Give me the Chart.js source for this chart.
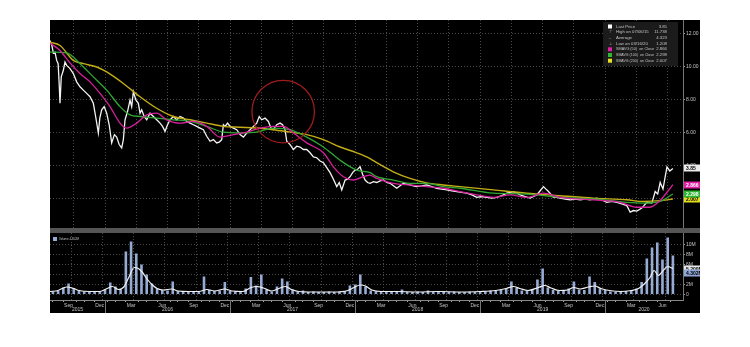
<!DOCTYPE html>
<html>
<head>
<meta charset="utf-8">
<script src="https://cdn.jsdelivr.net/npm/chart.js@4.4.1/dist/chart.umd.min.js"></script>
<style>
    html, body { margin: 0; padding: 0; background: #fff; width: 750px; height: 347px; overflow: hidden; }
    #frame { position: absolute; left: 50px; top: 20px; width: 650px; height: 293px; background: #000; }
    #price { position: absolute; left: 50px; top: 20px; }
    #sep { position: absolute; left: 50px; top: 228px; width: 650px; height: 5px; background: #555; }
    #volume { position: absolute; left: 50px; top: 233px; }
</style>
</head>
<body>
<div id="frame"></div>
<canvas id="price" width="650" height="208"></canvas>
<div id="sep"></div>
<canvas id="volume" width="650" height="80"></canvas>

<script>
// --- DATA (x = months counted from Jan 2015, so 12 = Jan 2016) ---
const priceMonths = [6.72, 6.9, 7.04, 7.2, 7.36, 7.5, 7.6, 7.68, 7.8, 8.0, 8.16, 8.32, 8.64, 8.96, 9.28, 9.6, 9.92, 10.24, 10.56, 10.88,
    11.1, 11.36, 11.5, 11.68, 11.92, 12.16, 12.4, 12.64, 12.9, 13.12, 13.36, 13.6, 13.76, 13.92, 14.16, 14.4, 14.56, 14.72, 14.96, 15.2,
    15.36, 15.52, 15.76, 16.0, 16.32, 16.64, 16.96, 17.28, 17.52, 17.76, 18.0, 18.24, 18.56, 18.88, 19.2, 19.52, 19.84, 20.16, 20.48, 20.8,
    21.12, 21.44, 21.76, 22.08, 22.4, 22.72, 22.96, 23.2, 23.36, 23.52, 23.76, 24.0, 24.32, 24.64, 24.96, 25.28, 25.6, 25.92, 26.24, 26.56,
    26.8, 27.04, 27.36, 27.68, 27.92, 28.16, 28.48, 28.8, 29.04, 29.28, 29.44, 29.76, 30.08, 30.4, 30.72, 31.04, 31.36, 31.68, 32.0, 32.32,
    32.64, 32.96, 33.28, 33.6, 33.92, 34.24, 34.48, 34.72, 35.04, 35.28, 35.52, 35.76, 36.0, 36.24, 36.48, 36.72, 36.96, 37.2, 37.44, 37.76,
    38.08, 38.4, 38.72, 39.04, 39.36, 39.68, 40.0, 40.32, 40.64, 40.96, 41.28, 41.6, 41.92, 42.4, 42.88, 43.36, 43.84, 44.32, 44.8, 45.28,
    45.76, 46.24, 46.72, 47.2, 47.68, 48.16, 48.64, 49.12, 49.6, 50.08, 50.56, 51.2, 51.52, 51.84, 52.32, 52.8, 53.12, 53.44, 53.76, 54.08,
    54.32, 54.56, 55.04, 55.36, 55.68, 56.16, 56.64, 57.12, 57.6, 58.08, 58.56, 59.2, 59.68, 60.16, 60.64, 61.12, 61.6, 62.08, 62.4, 62.72,
    63.04, 63.52, 64.0, 64.48, 64.8, 65.04, 65.28, 65.55, 65.93, 66.2, 66.5];
const priceValues = [11.6, 11.3, 10.85, 10.9, 10.4, 10.2, 9.0, 7.8, 9.4, 9.8, 10.3, 10.1, 9.9, 9.6, 9.1, 8.8, 8.6, 8.4, 8.2, 7.8,
    7.0, 6.0, 6.9, 7.4, 7.6, 7.2, 6.5, 5.4, 5.9, 5.75, 5.3, 5.1, 5.6, 6.8, 7.3, 8.0, 7.6, 8.5, 8.0, 7.8,
    7.2, 7.4, 7.0, 6.8, 7.2, 7.0, 6.8, 6.6, 6.4, 6.1, 6.5, 6.8, 7.0, 6.8, 7.0, 6.9, 6.7, 6.6, 6.5, 6.4,
    6.3, 6.2, 5.8, 5.5, 5.6, 5.4, 5.45, 5.6, 6.5, 6.4, 6.6, 6.4, 6.3, 6.2, 5.9, 5.75, 6.0, 6.2, 6.4, 6.6,
    7.0, 6.8, 6.9, 6.7, 6.3, 6.2, 6.5, 6.6, 6.5, 6.2, 5.5, 5.3, 5.0, 5.2, 5.15, 5.0, 5.0, 4.8, 4.55, 4.5,
    4.3, 4.2, 3.9, 3.6, 3.2, 2.75, 3.0, 2.55, 3.15, 3.2, 3.35, 3.6, 3.75, 3.8, 3.95, 3.5, 3.15, 3.0, 2.95, 3.05,
    3.0, 3.1, 3.15, 3.0, 2.95, 2.8, 2.65, 2.8, 2.95, 2.9, 2.85, 2.8, 2.75, 2.8, 2.85, 2.75, 2.65, 2.6, 2.55, 2.5,
    2.45, 2.4, 2.35, 2.25, 2.1, 2.15, 2.1, 2.05, 2.1, 2.2, 2.35, 2.45, 2.35, 2.25, 2.15, 2.05, 2.15, 2.25, 2.5, 2.75,
    2.6, 2.45, 2.1, 2.1, 2.05, 2.0, 1.95, 2.0, 1.95, 2.0, 1.95, 2.05, 1.95, 1.8, 1.85, 1.8, 1.7, 1.6, 1.2, 1.3,
    1.27, 1.45, 1.8, 1.75, 2.45, 2.3, 3.0, 2.6, 3.95, 3.7, 3.85];

const sma50Months = [6.72, 7.68, 8.64, 9.6, 10.56, 11.52, 12.48, 13.44, 14.08, 15.04, 16.0, 16.96, 17.92, 19.2, 20.48, 21.76, 23.04, 24.32,
    25.6, 26.88, 28.16, 29.12, 30.08, 31.36, 32.96, 33.92, 34.88, 35.84, 36.8, 37.44, 38.07, 39.67, 41.27, 42.87, 44.47, 46.07, 47.67,
    49.27, 50.87, 52.47, 54.07, 55.67, 58.87, 61.42, 63.02, 64.3, 65.26, 66.5];
const sma50Values = [11.45, 11.0, 10.25, 9.6, 9.1, 8.4, 7.6, 6.6, 6.3, 6.6, 7.1, 7.2, 6.8, 6.6, 6.7, 6.4, 5.75, 5.9,
    6.05, 6.3, 6.4, 6.4, 6.0, 5.4, 4.8, 3.95, 3.35, 3.15, 3.35, 3.45, 3.25, 2.95, 2.85, 2.75, 2.65, 2.45, 2.25,
    2.1, 2.25, 2.1, 2.35, 2.1, 1.95, 1.8, 1.5, 1.5, 1.9, 2.87];

const sma100Months = [6.72, 8.32, 9.6, 10.88, 12.16, 13.44, 14.4, 15.36, 16.96, 18.56, 20.16, 21.76, 23.36, 24.96, 26.56, 28.16, 29.76,
    31.36, 32.96, 34.56, 36.16, 37.44, 38.07, 39.67, 41.27, 42.87, 44.47, 46.07, 49.27, 52.47, 55.67, 58.87, 62.07, 63.66, 65.26, 66.5];
const sma100Values = [10.9, 10.85, 10.2, 9.4, 8.6, 7.6, 7.1, 7.0, 6.9, 6.8, 6.7, 6.4, 6.05, 6.0, 6.05, 6.3, 6.2,
    5.75, 5.15, 4.35, 3.75, 3.6, 3.35, 3.15, 2.95, 2.95, 2.75, 2.65, 2.35, 2.3, 2.1, 2.0, 1.8, 1.75, 1.85, 2.3];

const sma200Months = [6.72, 7.68, 8.96, 9.92, 11.2, 12.16, 13.76, 15.36, 16.96, 18.56, 20.16, 21.76, 23.36, 24.96, 26.56, 28.16, 29.76,
    31.36, 32.96, 34.56, 36.16, 37.44, 38.07, 39.67, 41.27, 42.87, 44.47, 46.07, 49.27, 52.47, 55.67, 58.87, 62.07, 63.66, 65.26, 66.5];
const sma200Values = [11.5, 11.3, 10.4, 10.2, 10.0, 9.7, 9.0, 8.2, 7.5, 7.0, 6.8, 6.6, 6.4, 6.35, 6.3, 6.2, 6.05,
    5.9, 5.6, 5.15, 4.8, 4.45, 4.2, 3.65, 3.25, 2.98, 2.85, 2.75, 2.55, 2.35, 2.2, 2.05, 1.95, 1.85, 1.9, 2.0];

// volume in millions, one bar every half month starting at month 7
const VOL_FIRST_MONTH = 7;
const volumeValues = [0.6, 0.7, 1.4, 2.2, 1.2, 0.8, 0.6, 0.5, 0.7, 0.6, 1.0, 2.4, 1.6, 0.9, 8.6, 10.6, 8.2, 6.0, 4.0, 2.2,
    1.2, 0.9, 0.8, 2.6, 0.7, 0.6, 0.5, 0.6, 0.5, 3.6, 0.9, 0.7, 0.8, 2.5, 0.7, 0.6, 0.6, 1.2, 3.5, 1.8,
    4.0, 0.9, 0.6, 1.6, 3.2, 2.6, 1.0, 0.6, 0.8, 0.5, 0.6, 0.5, 0.5, 0.6, 0.5, 0.6, 0.7, 1.8, 2.0, 4.0,
    1.6, 0.8, 0.6, 0.5, 0.6, 0.5, 0.6, 1.0, 0.5, 0.5, 0.6, 0.5, 0.8, 0.5, 0.5, 0.7, 0.5, 0.6, 0.5, 0.5,
    0.6, 0.5, 0.5, 0.6, 0.8, 0.7, 1.0, 1.2, 2.6, 1.3, 0.8, 0.7, 1.1, 3.0, 5.2, 1.4, 0.9, 0.7, 0.8, 1.2,
    2.6, 1.0, 0.9, 3.6, 2.5, 1.2, 0.9, 0.6, 0.5, 0.6, 0.7, 0.8, 1.2, 2.5, 7.2, 9.4, 10.4, 7.0, 11.4, 7.8];
const volMaMonths = [6.72, 7.5, 8.3, 9.0, 9.5, 10.5, 11.5, 12.2, 12.7, 13.3, 13.8, 14.3, 14.8, 15.2, 15.6, 16.0, 16.5, 17.0, 17.6, 18.4,
    19.0, 20.0, 21.0, 21.8, 22.5, 23.5, 24.2, 25.2, 26.0, 26.6, 27.2, 28.0, 28.8, 29.3, 29.9, 30.6, 32.0, 34.0, 35.3, 35.9,
    36.5, 37.0, 37.6, 38.5, 40.0, 42.0, 44.0, 46.0, 48.0, 49.5, 50.5, 51.2, 51.8, 52.6, 53.6, 54.2, 54.8, 55.6, 56.4, 57.0,
    57.6, 58.4, 59.0, 59.6, 60.4, 61.5, 62.5, 63.2, 63.8, 64.3, 64.7, 65.1, 65.5, 66.0, 66.5];
const volMaValues = [0.6, 0.8, 1.5, 1.2, 0.8, 0.6, 0.6, 1.2, 1.6, 1.0, 1.5, 3.5, 5.4, 5.2, 4.4, 3.2, 2.0, 1.2, 0.9, 1.1,
    0.7, 0.6, 0.6, 1.0, 0.7, 1.1, 0.7, 0.6, 1.4, 1.6, 1.3, 0.7, 1.3, 1.6, 1.0, 0.6, 0.5, 0.5, 0.8, 1.4,
    1.9, 1.7, 0.9, 0.6, 0.6, 0.5, 0.6, 0.5, 0.6, 0.8, 1.2, 1.6, 1.2, 0.8, 1.4, 1.8, 1.3, 0.8, 0.9, 1.4,
    1.1, 1.5, 1.7, 1.2, 0.8, 0.6, 0.8, 1.2, 2.2, 3.4, 4.8, 3.8, 4.6, 5.6, 5.2];
const lastVolume = 4.302;

const priceTicks = [2, 4, 6, 8, 10, 12];
const volumeTicks = [0, 2, 4, 6, 8, 10];
const quarterLabels = { 2: 'Mar', 5: 'Jun', 8: 'Sep', 11: 'Dec' };
const years = [2015, 2016, 2017, 2018, 2019, 2020];

const legendNames = ['Last Price', 'High on 07/06/15', 'Average', 'Low on 03/16/20',
    'SMAVG (50)  on Close', 'SMAVG (100)  on Close', 'SMAVG (200)  on Close'];
const legendValues = ['3.85', '11.738', '4.323', '1.208', '2.866', '2.298', '2.007'];

// red annotation circle (month, price, radius in months)
const circleMonth = 29.1, circleValue = 7.3, circleRadius = 3.0;

// --- STYLE ---
const X_MIN = 6.72, X_MAX = 67.47;
const GRID = '#4a4a4a';
const TXT = '#c4c4c4';
const FONT = '"Liberation Sans", Arial, sans-serif';
const PINK = '#d6209c', GREEN = '#2fa833', OLIVE = '#c4ae17';
const VOL_BLUE = '#96abd4';

Chart.defaults.font.family = FONT;
Chart.defaults.animation = false;

const pts = (xs, ys) => xs.map((x, i) => ({ x: x, y: ys[i] }));
const volumePoints = volumeValues.map((v, i) => ({ x: VOL_FIRST_MONTH + i * 0.5, y: v }));

// grid at quarter starts, small ticks mid-month
function monthTicks(scale) {
    const t = [];
    for (let m = 7; m <= 66; m++) {
        if (m % 3 === 0) t.push({ value: m });
        t.push({ value: m + 0.5 });
    }
    scale.ticks = t;
}
function noPad(s) {
    s.paddingTop = 0; s.paddingBottom = 0; s.paddingLeft = 0; s.paddingRight = 0;
}
const isQuarter = c => !!(c.tick && Number.isInteger(c.tick.value));
const isMidMonth = c => !!(c.tick && !Number.isInteger(c.tick.value));

function drawTag(ctx, x, yMid, w, bg, fg, text) {
    ctx.fillStyle = bg;
    ctx.fillRect(x, Math.round(yMid) - 3.5, w, 7);
    ctx.fillStyle = fg;
    ctx.font = 'bold 5px ' + FONT;
    ctx.textAlign = 'left';
    ctx.textBaseline = 'middle';
    ctx.fillText(text, x + 2, Math.round(yMid) + 0.5);
}

// text squeezed into a fixed width, like the terminal's condensed legend font
function fillFitted(ctx, text, x, y, maxW) {
    const w = ctx.measureText(text).width;
    if (w <= maxW) { ctx.fillText(text, x, y); return; }
    ctx.save();
    ctx.translate(x, y);
    ctx.scale(maxW / w, 1);
    ctx.fillText(text, 0, 0);
    ctx.restore();
}

// --- 1. PRICE PANEL ---
const priceExtras = {
    id: 'priceExtras',
    afterDatasetsDraw(chart) {
        const { ctx, scales: { x, y } } = chart;
        const cx = x.getPixelForValue(circleMonth);
        const cy = y.getPixelForValue(circleValue);
        const r = x.getPixelForValue(circleMonth + circleRadius) - cx;
        ctx.save();
        ctx.strokeStyle = '#a01c1c';
        ctx.lineWidth = 1.3;
        ctx.beginPath();
        ctx.arc(cx, cy, r, 0, Math.PI * 2);
        ctx.stroke();
        ctx.restore();
    },
    afterDraw(chart) {
        const { ctx, chartArea: a, scales: { y } } = chart;
        ctx.save();

        // legend box
        const bx = a.right - 80, by = 2;
        ctx.fillStyle = '#1b1b1b';
        ctx.fillRect(bx, by, 75, 44);
        const icons = ['#ffffff', null, null, null, '#e020a4', '#33b536', '#e8e020'];
        ctx.font = '4.3px ' + FONT;
        ctx.textBaseline = 'middle';
        legendNames.forEach((name, i) => {
            const ry = by + 4.5 + i * 5.7;
            if (icons[i]) {
                ctx.fillStyle = icons[i];
                ctx.fillRect(bx + 5, ry - 2, 4, 4);
            } else {
                ctx.fillStyle = '#aaa';
                ctx.textAlign = 'center';
                ctx.fillText(['', '\u22A4', '\u2013', '\u22A5'][i], bx + 7, ry);
            }
            ctx.fillStyle = TXT;
            ctx.textAlign = 'left';
            fillFitted(ctx, name, bx + 13, ry, 38);
            ctx.textAlign = 'right';
            ctx.fillText(legendValues[i], bx + 64, ry);
        });

        // value tags on the right axis
        const tx = a.right + 1, tw = chart.width - a.right - 1;
        drawTag(ctx, tx, y.getPixelForValue(Number(legendValues[6])), tw, '#e3dc1e', '#000', legendValues[6]);
        drawTag(ctx, tx, y.getPixelForValue(Number(legendValues[5])), tw, '#2cb52f', '#fff', legendValues[5]);
        drawTag(ctx, tx, y.getPixelForValue(Number(legendValues[4])), tw, '#e020a4', '#fff', legendValues[4]);
        drawTag(ctx, tx, y.getPixelForValue(priceValues[priceValues.length - 1]), tw, '#ececec', '#000',
            priceValues[priceValues.length - 1].toFixed(2));
        ctx.restore();
    }
};

const lineStyle = { pointRadius: 0, cubicInterpolationMode: 'monotone', fill: false };

new Chart(document.getElementById('price'), {
    type: 'line',
    data: {
        datasets: [
            { label: 'SMAVG (50)', data: pts(sma50Months, sma50Values), borderColor: PINK, borderWidth: 1.3, ...lineStyle },
            { label: 'SMAVG (100)', data: pts(sma100Months, sma100Values), borderColor: GREEN, borderWidth: 1.3, ...lineStyle },
            { label: 'SMAVG (200)', data: pts(sma200Months, sma200Values), borderColor: OLIVE, borderWidth: 1.4, ...lineStyle },
            { label: 'Last Price', data: pts(priceMonths, priceValues), borderColor: '#f4f4f4', borderWidth: 1.3, pointRadius: 0, tension: 0 }
        ]
    },
    options: {
        responsive: false,
        layout: { padding: 0 },
        plugins: { legend: { display: false }, tooltip: { enabled: false } },
        scales: {
            x: {
                type: 'linear', min: X_MIN, max: X_MAX,
                afterBuildTicks: monthTicks,
                afterFit: s => { s.height = 0; noPad(s); },
                ticks: { display: false },
                grid: { color: c => isQuarter(c) ? GRID : 'transparent', drawTicks: false, lineWidth: 1 },
                border: { display: false, dash: [1, 2] }
            },
            y: {
                position: 'right', min: 0.242, max: 12.848,
                afterBuildTicks: s => { s.ticks = priceTicks.map(v => ({ value: v })); },
                afterFit: s => { s.width = 17; noPad(s); },
                ticks: { color: TXT, font: { size: 5 }, padding: 1, callback: v => v.toFixed(2) },
                grid: { color: GRID, tickColor: '#999', tickLength: 2, lineWidth: 1 },
                border: { display: true, color: '#777', dash: [1, 2] }
            }
        }
    },
    plugins: [priceExtras]
});

// --- 2. VOLUME PANEL ---
const volumeExtras = {
    id: 'volumeExtras',
    afterDraw(chart) {
        const { ctx, chartArea: a, scales: { x, y } } = chart;
        ctx.save();

        // legend
        ctx.fillStyle = VOL_BLUE;
        ctx.fillRect(3, 4, 4, 4);
        ctx.fillStyle = TXT;
        ctx.font = '4.3px ' + FONT;
        ctx.textAlign = 'left';
        ctx.textBaseline = 'middle';
        fillFitted(ctx, 'Volume ' + lastVolume.toFixed(3) + 'M', 9, 6.3, 20);

        // year separators and labels below the month labels
        ctx.strokeStyle = '#777';
        ctx.lineWidth = 1;
        ctx.font = '5px ' + FONT;
        years.forEach((yr, i) => {
            const start = Math.max(X_MIN, 12 * i);
            const end = Math.min(X_MAX, 12 * (i + 1));
            if (i > 0) {
                const px = Math.round(x.getPixelForValue(12 * i)) + 0.5;
                ctx.beginPath();
                ctx.moveTo(px, a.bottom);
                ctx.lineTo(px, chart.height);
                ctx.stroke();
            }
            ctx.fillStyle = TXT;
            ctx.textAlign = 'center';
            ctx.fillText(String(yr), (x.getPixelForValue(start) + x.getPixelForValue(end)) / 2, a.bottom + 10);
        });

        // value tags
        const tx = a.right + 1, tw = chart.width - a.right - 1;
        const lastMa = volMaValues[volMaValues.length - 1];
        drawTag(ctx, tx, y.getPixelForValue(lastMa), tw, '#e8e8e8', '#000', lastMa.toFixed(3) + 'M');
        drawTag(ctx, tx, y.getPixelForValue(lastVolume), tw, '#8fa6d6', '#000', lastVolume.toFixed(3) + 'M');
        ctx.restore();
    }
};

new Chart(document.getElementById('volume'), {
    type: 'bar',
    data: {
        datasets: [
            { type: 'line', label: 'Volume avg', data: pts(volMaMonths, volMaValues), borderColor: '#f0f0f0', borderWidth: 1.2,
              pointRadius: 0, cubicInterpolationMode: 'monotone' },
            { label: 'Volume', data: volumePoints, backgroundColor: VOL_BLUE, borderWidth: 0,
              barPercentage: 0.5, categoryPercentage: 1 }
        ]
    },
    options: {
        responsive: false,
        layout: { padding: 0 },
        plugins: { legend: { display: false }, tooltip: { enabled: false } },
        scales: {
            x: {
                type: 'linear', min: X_MIN, max: X_MAX, offset: false,
                afterBuildTicks: monthTicks,
                afterFit: s => { s.height = 13; noPad(s); },
                ticks: {
                    color: TXT, font: { size: 5 }, padding: 1, autoSkip: false, maxRotation: 0,
                    callback: v => Number.isInteger(v) ? '' : (quarterLabels[Math.floor(v) % 12] || '')
                },
                grid: {
                    color: c => isQuarter(c) ? GRID : 'transparent',
                    tickColor: c => isMidMonth(c) ? '#aaa' : 'transparent',
                    tickLength: 2, lineWidth: 1
                },
                border: { display: true, color: '#888', dash: [1, 2] }
            },
            y: {
                position: 'right', min: -1.1, max: 12.3,
                afterBuildTicks: s => { s.ticks = volumeTicks.map(v => ({ value: v })); },
                afterFit: s => { s.width = 17; noPad(s); },
                ticks: { color: TXT, font: { size: 5 }, padding: 1, callback: v => v === 0 ? '0' : v + 'M' },
                grid: { color: GRID, tickColor: '#999', tickLength: 2, lineWidth: 1 },
                border: { display: true, color: '#777', dash: [1, 2] }
            }
        }
    },
    plugins: [volumeExtras]
});
</script>
</body>
</html>
